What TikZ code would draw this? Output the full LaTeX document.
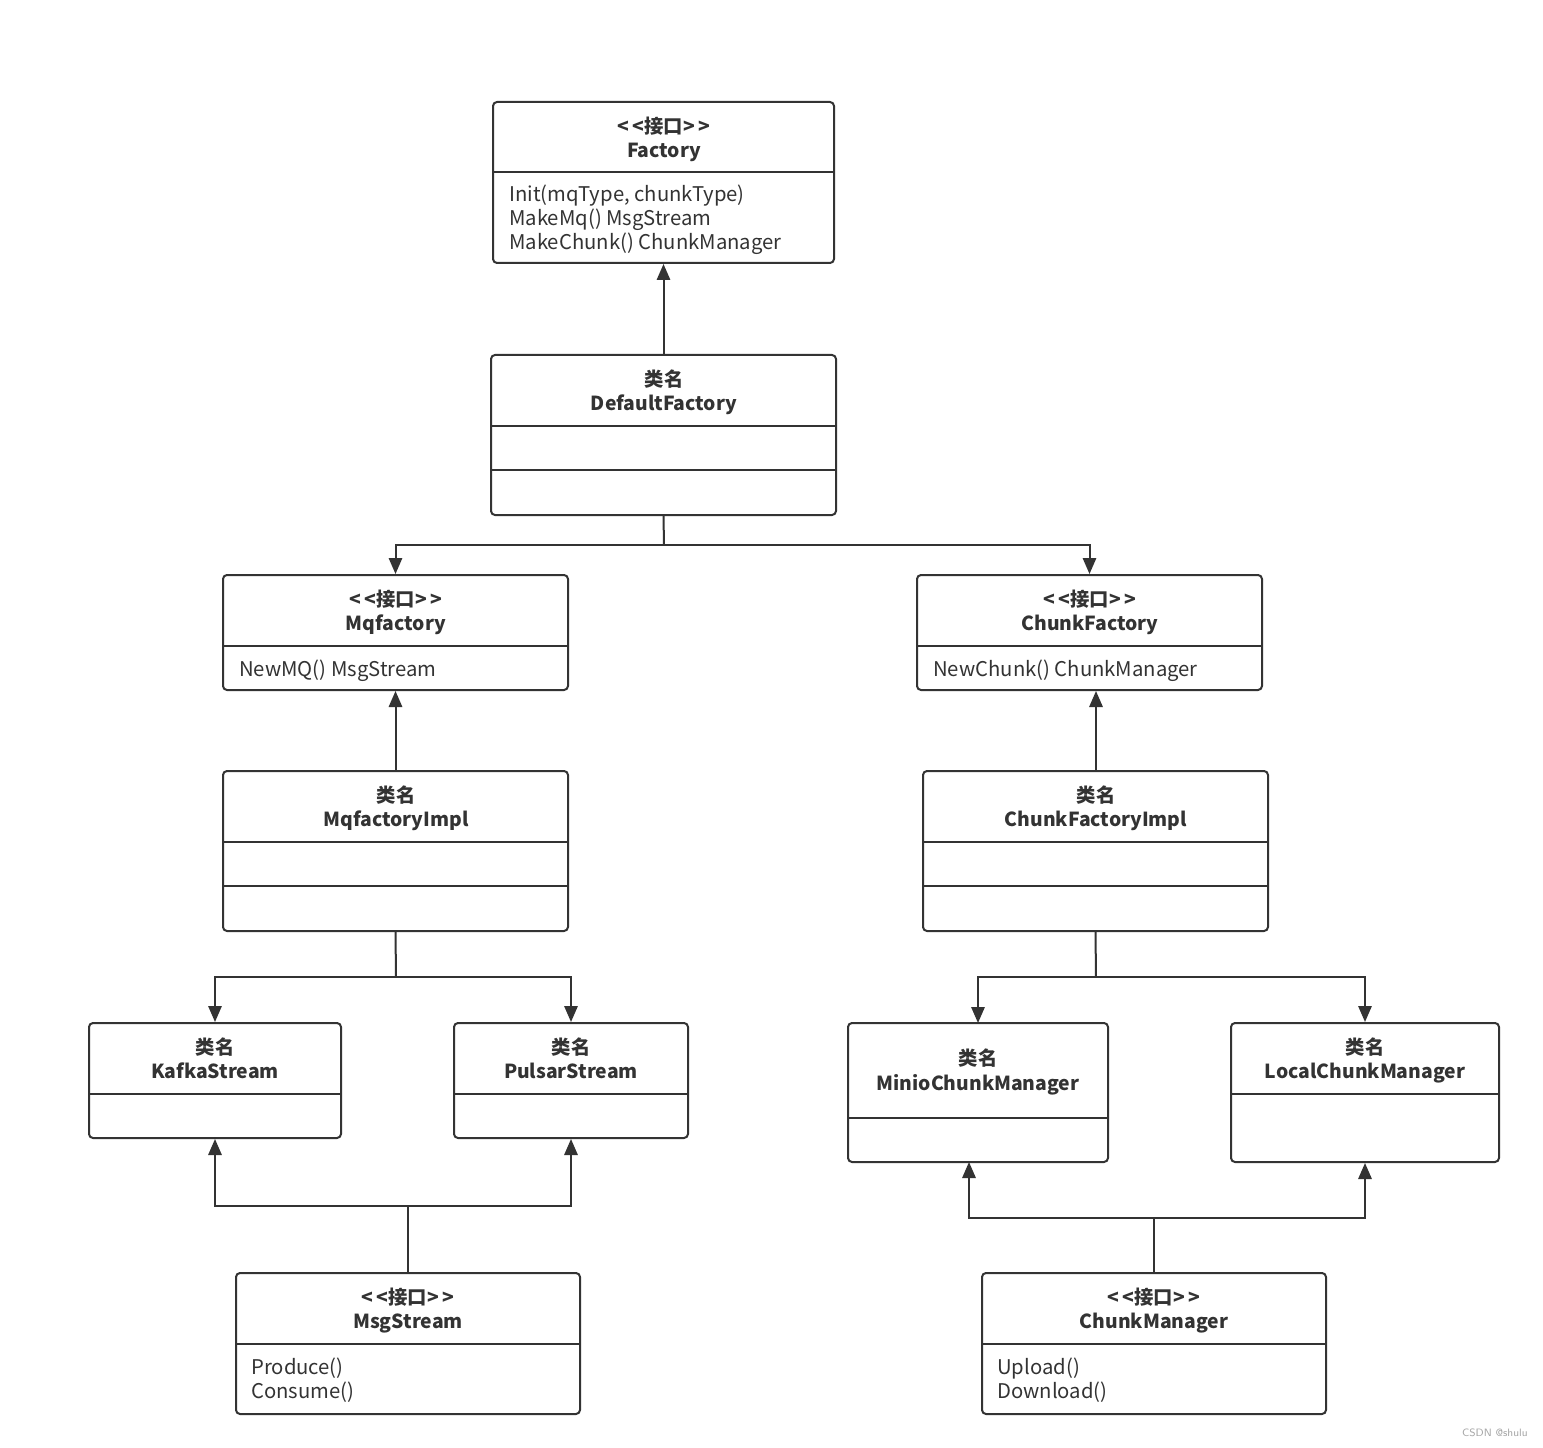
\documentclass[tikz,border=0pt]{standalone}
\usepackage{fontspec}
\setmainfont{Noto Sans CJK SC}
\usetikzlibrary{arrows.meta,fit}
\definecolor{ink}{HTML}{333333}
\newcommand{\stereo}{{<}\,{<}接口{>}\,{>}}
\begin{document}
\begin{tikzpicture}[x=0.75pt,y=-0.75pt,
  umlbox/.style={draw=ink,line width=1.5pt,rounded corners=3pt,inner sep=0pt,fill=white},
  divider/.style={draw=ink,line width=1.5pt},
  conn/.style={draw=ink,line width=1.5pt,-{Triangle[length=12pt,width=10pt]}},
  ttl/.style={font=\fontsize{14.5}{17}\selectfont\bfseries,text=ink,anchor=mid,inner sep=0pt,yshift=-3pt},
  mth/.style={font=\fontsize{15.2}{17}\selectfont,text=ink,anchor=mid west,inner sep=0pt,yshift=-3pt},
  wm/.style={font=\fontsize{8}{9}\selectfont\sffamily,text=gray!70,inner sep=0pt}]
\path[use as bounding box,fill=white] (0,0) rectangle (1543,1448);

% Factory
\node[umlbox,fit={(493,102)(834,263)}] (fac) {};
\draw[divider] (493,172) -- (834,172);
\node[ttl] (facs) at (664,126) {\stereo};
\node[ttl] (fact) at (664,150) {Factory};
\node[mth] (facm1) at (509,194) {Init(mqType, chunkType)};
\node[mth] (facm2) at (509,218) {MakeMq() MsgStream};
\node[mth] (facm3) at (509,242) {MakeChunk() ChunkManager};

% DefaultFactory
\node[umlbox,fit={(491,355)(836,515)}] (df) {};
\draw[divider] (491,426) -- (836,426);
\draw[divider] (491,470) -- (836,470);
\node[ttl] (dfs) at (664,379) {类名};
\node[ttl] (dft) at (664,403) {DefaultFactory};

% Mqfactory
\node[umlbox,fit={(223,575)(568,690)}] (mq) {};
\draw[divider] (223,646) -- (568,646);
\node[ttl] (mqs) at (396,599) {\stereo};
\node[ttl] (mqt) at (396,623) {Mqfactory};
\node[mth] (mqm) at (239,669) {NewMQ() MsgStream};

% ChunkFactory
\node[umlbox,fit={(917,575)(1262,690)}] (cf) {};
\draw[divider] (917,646) -- (1262,646);
\node[ttl] (cfs) at (1090,599) {\stereo};
\node[ttl] (cft) at (1090,623) {ChunkFactory};
\node[mth] (cfm) at (933,669) {NewChunk() ChunkManager};

% MqfactoryImpl
\node[umlbox,fit={(223,771)(568,931)}] (mqi) {};
\draw[divider] (223,842) -- (568,842);
\draw[divider] (223,886) -- (568,886);
\node[ttl] (mqis) at (396,795) {类名};
\node[ttl] (mqit) at (396,819) {MqfactoryImpl};

% ChunkFactoryImpl
\node[umlbox,fit={(923,771)(1268,931)}] (cfi) {};
\draw[divider] (923,842) -- (1268,842);
\draw[divider] (923,886) -- (1268,886);
\node[ttl] (cfis) at (1096,795) {类名};
\node[ttl] (cfit) at (1096,819) {ChunkFactoryImpl};

% KafkaStream
\node[umlbox,fit={(89,1023)(341,1138)}] (ks) {};
\draw[divider] (89,1094) -- (341,1094);
\node[ttl] (kss) at (215,1047) {类名};
\node[ttl] (kst) at (215,1071) {KafkaStream};

% PulsarStream
\node[umlbox,fit={(454,1023)(688,1138)}] (ps) {};
\draw[divider] (454,1094) -- (688,1094);
\node[ttl] (pss) at (571,1047) {类名};
\node[ttl] (pst) at (571,1071) {PulsarStream};

% MinioChunkManager
\node[umlbox,fit={(848,1023)(1108,1162)}] (mcm) {};
\draw[divider] (848,1118) -- (1108,1118);
\node[ttl] (mcms) at (978,1058) {类名};
\node[ttl] (mcmt) at (978,1083) {MinioChunkManager};

% LocalChunkManager
\node[umlbox,fit={(1231,1023)(1499,1162)}] (lcm) {};
\draw[divider] (1231,1094) -- (1499,1094);
\node[ttl] (lcms) at (1365,1047) {类名};
\node[ttl] (lcmt) at (1365,1071) {LocalChunkManager};

% MsgStream
\node[umlbox,fit={(236,1273)(580,1414)}] (ms) {};
\draw[divider] (236,1344) -- (580,1344);
\node[ttl] (mss) at (408,1297) {\stereo};
\node[ttl] (mst) at (408,1321) {MsgStream};
\node[mth] (msm1) at (251,1367) {Produce()};
\node[mth] (msm2) at (251,1391) {Consume()};

% ChunkManager
\node[umlbox,fit={(982,1273)(1326,1414)}] (cm) {};
\draw[divider] (982,1344) -- (1326,1344);
\node[ttl] (cms) at (1154,1297) {\stereo};
\node[ttl] (cmt) at (1154,1321) {ChunkManager};
\node[mth] (cmm1) at (997,1367) {Upload()};
\node[mth] (cmm2) at (997,1391) {Download()};

% junction coordinates
\coordinate (j1) at (664,545);
\coordinate (j2) at (396,977);
\coordinate (j3) at (1096,977);
\coordinate (j4) at (408,1206);
\coordinate (j5) at (1154,1218);

% connectors
\draw[conn] (df.north) -- (fac.south);
\draw[divider] (df.south) -- (j1);
\draw[conn] (j1) -| (mq.north);
\draw[conn] (j1) -| (cf.north);
\draw[conn] (mqi.north) -- (mq.south);
\draw[conn] (cfi.north -| 1096,0) -- (cf.south -| 1096,0);
\draw[divider] (mqi.south) -- (j2);
\draw[conn] (j2) -| (ks.north);
\draw[conn] (j2) -| (ps.north);
\draw[divider] (cfi.south) -- (j3);
\draw[conn] (j3) -| (978,1023);
\draw[conn] (j3) -| (lcm.north);
\draw[divider] (ms.north) -- (j4);
\draw[conn] (j4) -| (ks.south);
\draw[conn] (j4) -| (ps.south);
\draw[divider] (cm.north) -- (j5);
\draw[conn] (j5) -| (969,1162);
\draw[conn] (j5) -| (lcm.south);

\node[wm,anchor=east] (wmk) at (1528,1433) {CSDN @shulu};
\end{tikzpicture}
\end{document}
